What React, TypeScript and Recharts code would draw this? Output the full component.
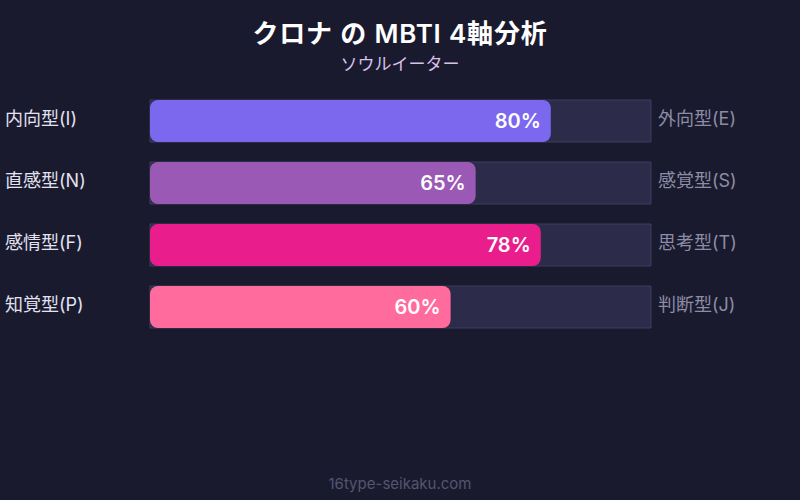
import React from "react";
import { Bar, BarChart, Cell, LabelList, XAxis, YAxis } from "recharts";

const leftLabels = ["内向型(I)", "直感型(N)", "感情型(F)", "知覚型(P)"];
const rightLabels = ["外向型(E)", "感覚型(S)", "思考型(T)", "判断型(J)"];
const scores = [80, 65, 78, 60];
const barColors = ["#7b68ee", "#9b59b6", "#e91e8c", "#ff6b9d"];

const data = leftLabels.map((left, i) => ({
  left,
  right: rightLabels[i],
  value: scores[i],
}));

const FONT = "Inter, 'Noto Sans CJK JP', sans-serif";

function AxisTick(props: any) {
  const { y, payload, index } = props;
  return (
    <g>
      <text x={5} y={y} dy={4} textAnchor="start" fill="#e2e2f0" fontSize={18} fontFamily={FONT}>
        {payload.value}
      </text>
      <text x={658} y={y} dy={4} textAnchor="start" fill="#8c8ca6" fontSize={18} fontFamily={FONT}>
        {rightLabels[index]}
      </text>
    </g>
  );
}

export default function App() {
  document.body.style.margin = "0";
  return (
    <div style={{ position: "relative", width: 800, height: 500, background: "#1a1a2e", fontFamily: FONT }}>
      <div
        style={{
          position: "absolute",
          top: 13,
          width: 800,
          textAlign: "center",
          color: "#ffffff",
          fontSize: 26,
          fontWeight: 600,
          letterSpacing: 0.8,
        }}
      >
        クロナ の MBTI 4軸分析
      </div>
      <div style={{ position: "absolute", top: 50, width: 800, textAlign: "center", color: "#d8c0ea", fontSize: 17 }}>
        ソウルイーター
      </div>
      <BarChart
        width={800}
        height={500}
        data={data}
        layout="vertical"
        margin={{ top: 90, right: 149, bottom: 162, left: 0 }}
        barSize={42}
        style={{ position: "absolute", top: 0, left: 0 }}
      >
        <XAxis type="number" domain={[0, 100]} hide />
        <YAxis
          type="category"
          dataKey="left"
          width={150}
          axisLine={false}
          tickLine={false}
          tick={<AxisTick />}
        />
        <Bar
          dataKey="value"
          radius={8}
          isAnimationActive={false}
          background={{ fill: "#2d2b4a", stroke: "#3e3c5e", strokeWidth: 1 }}
        >
          {data.map((d, i) => (
            <Cell key={d.left} fill={barColors[i]} />
          ))}
          <LabelList
            dataKey="value"
            position="insideRight"
            offset={10}
            formatter={(v: any) => `${v}%`}
            fill="#ffffff"
            fontSize={20}
            fontWeight={600}
            fontFamily={FONT}
          />
        </Bar>
      </BarChart>
      <div style={{ position: "absolute", top: 474, width: 800, textAlign: "center", color: "#55556f", fontSize: 15 }}>
        16type-seikaku.com
      </div>
    </div>
  );
}
